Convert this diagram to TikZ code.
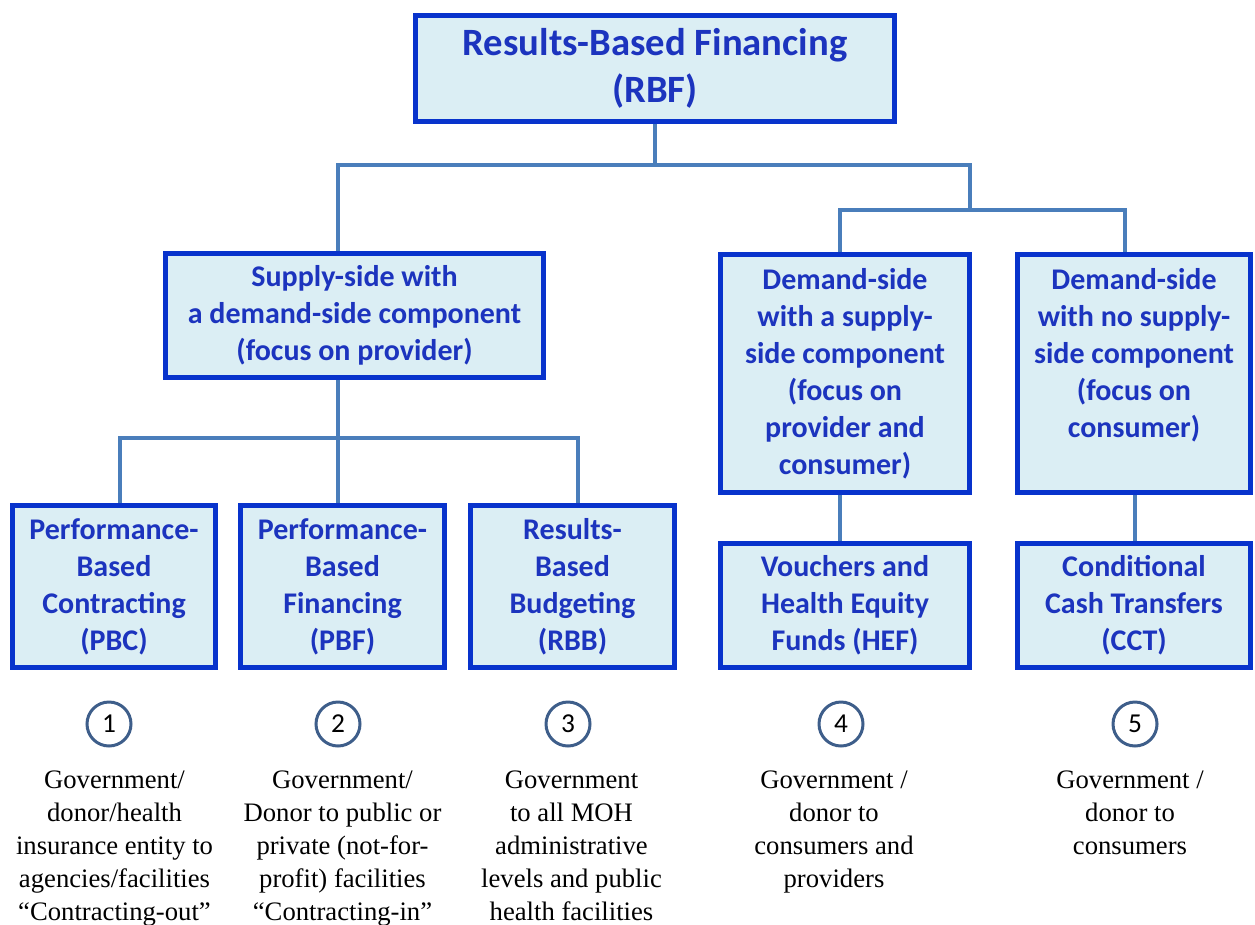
\documentclass[tikz,border=0pt]{standalone}
\usepackage{fontspec}
\setmainfont{Liberation Serif}
\newfontfamily\boxfont{Carlito}
\usetikzlibrary{backgrounds}

\definecolor{boxfill}{HTML}{DBEEF4}
\definecolor{boxline}{HTML}{0833CC}
\definecolor{boxtext}{HTML}{1C34BE}
\definecolor{linkblue}{HTML}{4A7EBB}
\definecolor{circline}{HTML}{3E5E8A}

\newcommand\pxu{0.75pt}

\tikzset{
  rbfbox/.style={draw=boxline, fill=boxfill, line width=3.75pt, text=boxtext,
    align=center, inner sep=0pt,
    font=\boxfont\bfseries\fontsize{22.5}{27.75}\selectfont},
  link/.style={draw=linkblue, line width=3pt},
  numcirc/.style={circle, draw=circline, line width=2.25pt, inner sep=0pt,
    minimum size=44*\pxu, font=\boxfont\fontsize{20.5}{24}\selectfont},
  note/.style={align=center, anchor=north, inner sep=0pt,
    font=\fontsize{20}{24.75}\selectfont},
}

\begin{document}
\begin{tikzpicture}[x=0.75pt, y=-0.75pt]
\useasboundingbox (0,0) rectangle (1255,924);

% top level
\node[rbfbox, minimum width=479*\pxu, minimum height=106*\pxu,
  font=\boxfont\bfseries\fontsize{29}{35}\selectfont]
  (rbf) at (655,68.5) {Results-Based Financing\\(RBF)};

% second level
\node[rbfbox, minimum width=378*\pxu, minimum height=124*\pxu]
  (supply) at (354.5,315.5) {Supply-side with\\a demand-side component\\(focus on provider)};
\node[rbfbox, minimum width=249*\pxu, minimum height=238*\pxu]
  (demand1) at (845,373.5) {Demand-side\\with a supply-\\side component\\(focus on\\provider and\\consumer)};
\node[rbfbox, minimum width=233*\pxu, minimum height=238*\pxu]
  (demand2) at (1134,373.5) {Demand-side\\with no supply-\\side component\\(focus on\\consumer)\\\vphantom{consumer)}};

% third level
\node[rbfbox, minimum width=203*\pxu, minimum height=162*\pxu]
  (pbc) at (114,586.5) {Performance-\\Based\\Contracting\\(PBC)};
\node[rbfbox, minimum width=204*\pxu, minimum height=162*\pxu]
  (pbf) at (342.5,586.5) {Performance-\\Based\\Financing\\(PBF)};
\node[rbfbox, minimum width=204*\pxu, minimum height=162*\pxu]
  (rbb) at (572.5,586.5) {Results-\\Based\\Budgeting\\(RBB)};
\node[rbfbox, minimum width=249*\pxu, minimum height=124*\pxu]
  (hef) at (845,605.5) {Vouchers and\\Health Equity\\Funds (HEF)};
\node[rbfbox, minimum width=233*\pxu, minimum height=124*\pxu]
  (cct) at (1134,605.5) {Conditional\\Cash Transfers\\(CCT)};

% where the lines run
\coordinate (busA) at (0,165);
\coordinate (busB) at (0,210);
\coordinate (busC) at (0,438);
\coordinate (tapS) at (338,0);
\coordinate (tapR) at (970,0);
\coordinate (tapD1) at (840,0);
\coordinate (tapD2) at (1125,0);
\coordinate (tapD2b) at (1135,0);
\coordinate (tapP1) at (120,0);
\coordinate (tapP3) at (578,0);

\begin{scope}[on background layer]
	\draw[link] (rbf.south) -- (rbf.south |- busA);
	\draw[link] (supply.north -| tapS) -- (tapS |- busA) -- (tapR |- busA) -- (tapR |- busB);
	\draw[link] (demand1.north -| tapD1) -- (tapD1 |- busB) -- (tapD2 |- busB) -- (demand2.north -| tapD2);
	\draw[link] (supply.south -| tapS) -- (pbf.north -| tapS);
	\draw[link] (pbc.north -| tapP1) -- (tapP1 |- busC) -- (tapP3 |- busC) -- (rbb.north -| tapP3);
	\draw[link] (demand1.south -| tapD1) -- (hef.north -| tapD1);
	\draw[link] (demand2.south -| tapD2b) -- (cct.north -| tapD2b);
\end{scope}

% numbers and who pays whom
\node[numcirc] (num1) at (109,724) {1};
\node[numcirc] (num2) at (338,724) {2};
\node[numcirc] (num3) at (568,724) {3};
\node[numcirc] (num4) at (841,724) {4};
\node[numcirc] (num5) at (1135,724) {5};

\node[note] (who1) at (114.5,771) {Government/\\donor/health\\insurance entity to\\agencies/facilities\\“Contracting-out”};
\node[note] (who2) at (342.5,771) {Government/\\Donor to public or\\private (not-for-\\profit) facilities\\“Contracting-in”};
\node[note] (who3) at (571.5,771) {Government\\to all MOH\\administrative\\levels and public\\health facilities};
\node[note] (who4) at (834,771) {Government /\\donor to\\consumers and\\providers};
\node[note] (who5) at (1130,771) {Government /\\donor to\\consumers};
\end{tikzpicture}
\end{document}
